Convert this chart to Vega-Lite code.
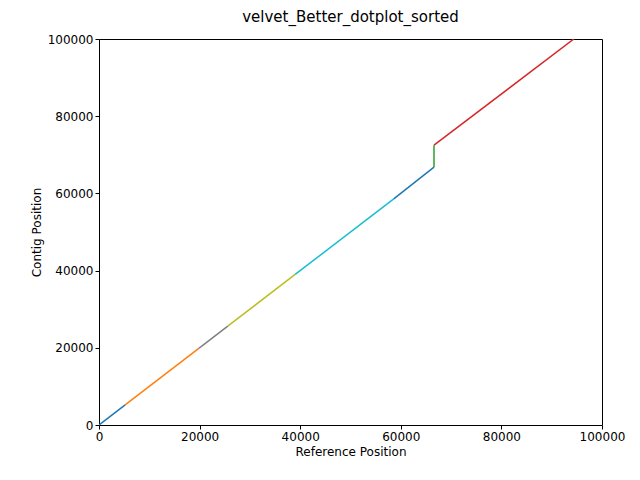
{
  "$schema": "https://vega.github.io/schema/vega-lite/v6.json",
  "width": 503,
  "height": 386,
  "padding": {"left": 30, "top": 10, "right": 20, "bottom": 5},
  "title": {"text": "velvet_Better_dotplot_sorted", "font": "DejaVu Sans", "fontSize": 15, "fontWeight": "normal", "offset": 8},
  "config": {"view": {"stroke": "black"}, "font": "DejaVu Sans"},
  "data": {"values": [
    {"seg": "a", "x": 0, "y": 0},
    {"seg": "a", "x": 5200, "y": 5200},
    {"seg": "b", "x": 5200, "y": 5200},
    {"seg": "b", "x": 19900, "y": 19900},
    {"seg": "c", "x": 19900, "y": 19900},
    {"seg": "c", "x": 20300, "y": 20300},
    {"seg": "d", "x": 20300, "y": 20300},
    {"seg": "d", "x": 25600, "y": 25600},
    {"seg": "e", "x": 25600, "y": 25600},
    {"seg": "e", "x": 39000, "y": 39000},
    {"seg": "f", "x": 39000, "y": 39000},
    {"seg": "f", "x": 58600, "y": 58600},
    {"seg": "g", "x": 58600, "y": 58600},
    {"seg": "g", "x": 66600, "y": 66800},
    {"seg": "h", "x": 66600, "y": 66800},
    {"seg": "h", "x": 66600, "y": 72500},
    {"seg": "i", "x": 66600, "y": 72500},
    {"seg": "i", "x": 94400, "y": 100000}
  ]},
  "mark": {"type": "line", "strokeWidth": 1.5, "clip": true},
  "encoding": {
    "x": {"field": "x", "type": "quantitative", "title": "Reference Position",
      "scale": {"domain": [0, 100000], "nice": false},
      "axis": {"grid": false, "values": [0, 20000, 40000, 60000, 80000, 100000], "format": "d", "labelFontSize": 12, "titleFontSize": 12, "titleFontWeight": "normal", "domain": false, "tickColor": "black", "labelColor": "black", "labelFlush": false, "tickSize": 4}},
    "y": {"field": "y", "type": "quantitative", "title": "Contig Position",
      "scale": {"domain": [0, 100000], "nice": false},
      "axis": {"grid": false, "values": [0, 20000, 40000, 60000, 80000, 100000], "format": "d", "labelFontSize": 12, "titleFontSize": 12, "titleFontWeight": "normal", "domain": false, "tickColor": "black", "labelColor": "black", "labelFlush": false, "tickSize": 4}},
    "detail": {"field": "seg"},
    "color": {"field": "seg", "type": "nominal", "legend": null,
      "scale": {"domain": ["a","b","c","d","e","f","g","h","i"],
        "range": ["#1f77b4","#ff7f0e","#9467bd","#7f7f7f","#bcbd22","#17becf","#1f77b4","#2ca02c","#d62728"]}}
  }
}
